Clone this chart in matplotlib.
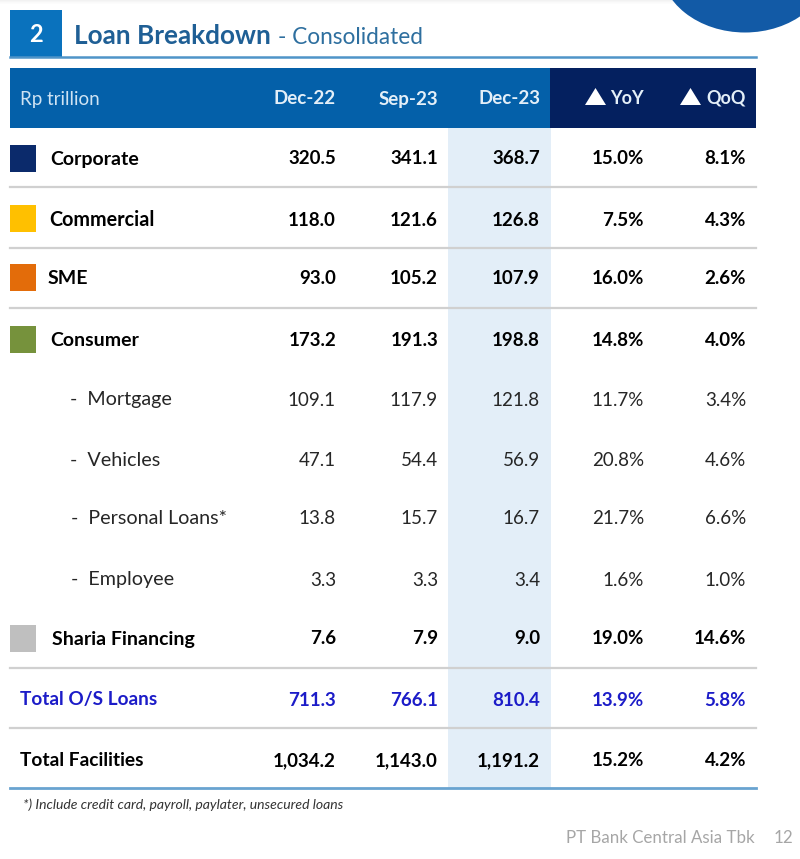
import matplotlib
matplotlib.use("Agg")
import matplotlib.pyplot as plt
from matplotlib.patches import Rectangle, Ellipse, Polygon

plt.rcParams['font.family'] = ['Lato', 'DejaVu Sans']

columns = ["Dec-22", "Sep-23", "Dec-23"]
change_columns = ["YoY", "QoQ"]
labels = ["Corporate", "Commercial", "SME", "Consumer", "-  Mortgage", "-  Vehicles",
          "-  Personal Loans*", "-  Employee", "Sharia Financing", "Total O/S Loans", "Total Facilities"]
dec22 = [320.5, 118.0, 93.0, 173.2, 109.1, 47.1, 13.8, 3.3, 7.6, 711.3, 1034.2]
sep23 = [341.1, 121.6, 105.2, 191.3, 117.9, 54.4, 15.7, 3.3, 7.9, 766.1, 1143.0]
dec23 = [368.7, 126.8, 107.9, 198.8, 121.8, 56.9, 16.7, 3.4, 9.0, 810.4, 1191.2]
yoy = [15.0, 7.5, 16.0, 14.8, 11.7, 20.8, 21.7, 1.6, 19.0, 13.9, 15.2]
qoq = [8.1, 4.3, 2.6, 4.0, 3.4, 4.6, 6.6, 1.0, 14.6, 5.8, 4.2]
swatches = {"Corporate": "#0b2a6b", "Commercial": "#ffc000", "SME": "#e36c0a",
            "Consumer": "#76923c", "Sharia Financing": "#bfbfbf"}

row_y = [159, 220, 279, 340, 400, 460, 519, 580, 639, 700, 761]
swatch_y = [158, 218, 277, 339, 399, 459, 518, 579, 638, 699, 760]
label_x = [50, 49, 48, 50, 70, 70, 71, 71, 52, 20, 20]
label_size = [14, 14.2, 14, 14, 14.2, 14.2, 14.2, 14.2, 14, 13.7, 13.8]
col_x = [336, 438, 540, 644, 746]
sub_rows = {4, 5, 6, 7}
BLUE, NAVY = "#0460a9", "#04205f"

fig = plt.figure(figsize=(8, 8.59), dpi=100)
ax = fig.add_axes([0, 0, 1, 1])
ax.set_xlim(0, 800)
ax.set_ylim(859, 0)
ax.axis("off")

# decoration
for i, a in enumerate([.10, .07, .04, .02]):
    ax.add_patch(Rectangle((0, i), 800, 1, color="#808080", alpha=a, lw=0))
ax.add_patch(Ellipse((745, -35), 170, 135, color="#125aa6", lw=0))

# title
ax.add_patch(Rectangle((10, 10), 52, 47, color="#0a72bd", lw=0))
ax.plot([10, 756], [57, 57], color="#4f94c8", lw=1.8)
ax.text(36, 35, "2", color="white", fontsize=17, fontweight="bold", ha="center", va="center")
ax.text(74, 36, "Loan Breakdown", color="#1f5f95", fontsize=18.8, fontweight="bold", va="center")
ax.text(278, 37, "- Consolidated", color="#2e6f9f", fontsize=16.3, va="center")

# header
ax.add_patch(Rectangle((448, 127), 103, 661, color="#e3eef8", lw=0))
ax.add_patch(Rectangle((10, 68), 540, 60, color=BLUE, lw=0))
ax.add_patch(Rectangle((550, 68), 206, 60, color=NAVY, lw=0))
ax.text(20, 99, "Rp trillion", color="#cfe3f3", fontsize=13.5, va="center")
for name, x in zip(columns, col_x):
    ax.text(x, 99, name, color="#e4eff8", fontsize=13.5, fontweight="bold", ha="right", va="center")
for name, x, tx in zip(change_columns, col_x[3:], [585, 680]):
    ax.add_patch(Polygon([(tx, 105), (tx + 21, 105), (tx + 10.5, 88)], color="white", lw=0))
    ax.text(x, 98, name, color="#e4eff8", fontsize=13, fontweight="bold", ha="right", va="center")

# rules
for y in [187, 248, 308, 668, 728]:
    ax.plot([10, 756], [y, y], color="#d0d0d0", lw=1.6, zorder=1)
ax.plot([10, 756], [788, 788], color="#69a3d0", lw=2, zorder=3)

# rows
for i, name in enumerate(labels):
    y = row_y[i]
    sub = i in sub_rows
    total = i == 9
    color = "#1c1cc8" if total else ("#262626" if sub else "black")
    weight = "normal" if sub else "bold"
    if name in swatches:
        ax.add_patch(Rectangle((10, swatch_y[i] - 13), 26, 27, color=swatches[name], lw=0))
    ax.text(label_x[i], y, name, color=color, fontsize=label_size[i], fontweight=weight, va="center")
    cells = [f"{dec22[i]:,.1f}", f"{sep23[i]:,.1f}", f"{dec23[i]:,.1f}", f"{yoy[i]:.1f}%", f"{qoq[i]:.1f}%"]
    for text, x in zip(cells, col_x):
        ax.text(x, y, text, color=color, fontsize=13.5, fontweight=weight, ha="right", va="center")

# footer
ax.text(23, 805, "*) Include credit card, payroll, paylater, unsecured loans", color="#333333",
        fontsize=10.1, style="italic", va="center")
ax.text(755, 838, "PT Bank Central Asia Tbk", color="#a6a6a6", fontsize=12.2, ha="right", va="center")
ax.text(793, 838, "12", color="#a6a6a6", fontsize=12.2, ha="right", va="center")

fig.savefig("out.png", dpi=100)
